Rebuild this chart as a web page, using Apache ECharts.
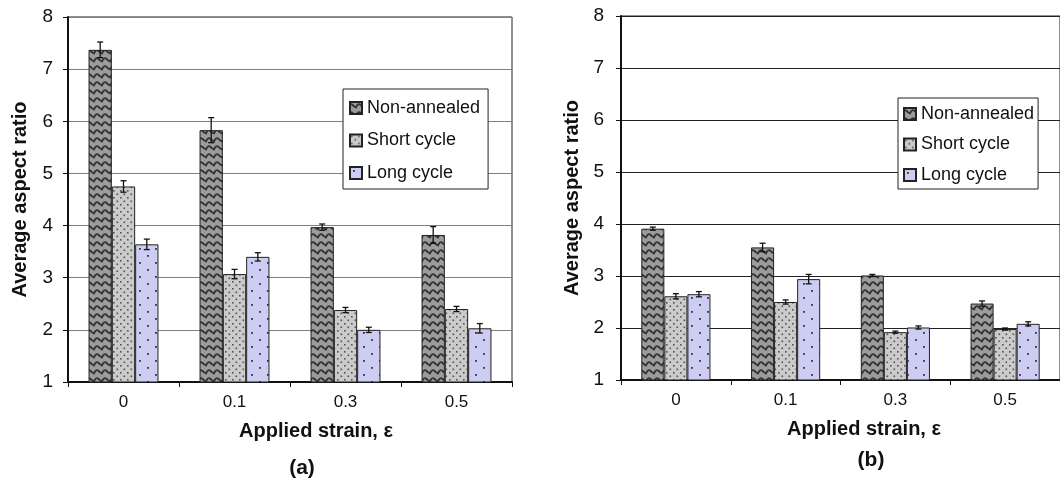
<!DOCTYPE html>
<html lang="en" style="height: 100%">
<head>
  <meta charset="utf-8">
</head>
<body style="height: 100%; margin: 0; background: #fff">
  <div id="container" style="width: 1060px; height: 481px"></div>

  <script type="text/javascript" src="https://fastly.jsdelivr.net/npm/echarts@6.0.0/dist/echarts.min.js"></script>
  <script type="text/javascript">
var categories = ['0', '0.1', '0.3', '0.5'];
var seriesNames = ['Non-annealed', 'Short cycle', 'Long cycle'];
var yTicks = [1, 8, 1]; // min, max, step

// panel (a)
var aNonAnnealed = [7.37, 5.83, 3.97, 3.82];
var aShort = [4.75, 3.07, 2.38, 2.40];
var aLong = [3.64, 3.40, 2.00, 2.03];
var aNonAnnealedErr = [0.15, 0.24, 0.06, 0.16];
var aShortErr = [0.11, 0.09, 0.05, 0.05];
var aLongErr = [0.10, 0.08, 0.05, 0.09];

// panel (b)
var bNonAnnealed = [3.91, 3.55, 3.01, 2.47];
var bShort = [2.61, 2.50, 1.92, 1.98];
var bLong = [2.65, 2.94, 2.01, 2.08];
var bNonAnnealedErr = [0.03, 0.08, 0.02, 0.05];
var bShortErr = [0.05, 0.04, 0.02, 0.02];
var bLongErr = [0.05, 0.09, 0.03, 0.04];

var FONT = '"Liberation Sans", Arial, sans-serif';
var GAP = 0.37;

// fill patterns
function waveTile() {
  var c = document.createElement('canvas');
  c.width = 8; c.height = 8;
  var g = c.getContext('2d');
  g.fillStyle = '#9c9c9c';
  g.fillRect(0, 0, 8, 8);
  g.strokeStyle = '#333';
  g.lineWidth = 1.8;
  g.beginPath();
  g.moveTo(-2, 5.5);
  g.quadraticCurveTo(0, 1, 2, 2.5);
  g.quadraticCurveTo(4, 4.5, 6, 5.5);
  g.quadraticCurveTo(8, 1, 10, 2.5);
  g.moveTo(-2, 5.5);
  g.stroke();
  return c;
}
function dotTile(bg, dot, w, h, pts, r) {
  var c = document.createElement('canvas');
  c.width = w; c.height = h;
  var g = c.getContext('2d');
  g.fillStyle = bg;
  g.fillRect(0, 0, w, h);
  g.fillStyle = dot;
  for (var i = 0; i < pts.length; i++) {
    g.fillRect(pts[i][0], pts[i][1], r, r);
  }
  return c;
}
var fills = [
  { image: waveTile(), repeat: 'repeat' },
  { image: dotTile('#cbcbcb', '#555', 7, 7, [[1, 1], [4.5, 4.5]], 1.6), repeat: 'repeat' },
  { image: dotTile('#cdcdf3', '#333', 16, 14, [[3, 3], [11, 10]], 1.8), repeat: 'repeat' }
];

function errorSeries(idx, values, errs, sIdx) {
  var data = [];
  for (var i = 0; i < values.length; i++) data.push([i, values[i], errs[i]]);
  return {
    type: 'custom',
    xAxisIndex: idx,
    yAxisIndex: idx,
    z: 5,
    silent: true,
    data: data,
    renderItem: function (params, api) {
      var c = api.value(0), v = api.value(1), e = api.value(2);
      var band = api.size([1, 0])[0];
      var barW = band * (1 - GAP) / 3;
      var x = api.coord([c, v])[0] + (sIdx - 1) * barW;
      var top = api.coord([c, v + e])[1];
      var bot = api.coord([c, v - e])[1];
      var st = { stroke: '#111', lineWidth: 1.3 };
      return {
        type: 'group',
        children: [
          { type: 'line', shape: { x1: x, y1: top, x2: x, y2: bot }, style: st },
          { type: 'line', shape: { x1: x - 3, y1: top, x2: x + 3, y2: top }, style: st },
          { type: 'line', shape: { x1: x - 3, y1: bot, x2: x + 3, y2: bot }, style: st }
        ]
      };
    }
  };
}

function barSeries(idx, name, values, k) {
  return {
    name: name,
    type: 'bar',
    xAxisIndex: idx,
    yAxisIndex: idx,
    barGap: '0%',
    barCategoryGap: (GAP * 100) + '%',
    data: values,
    itemStyle: { color: fills[k], borderColor: '#222', borderWidth: 1 }
  };
}

function xAxisFor(idx, shift) {
  return {
    type: 'category',
    gridIndex: idx,
    data: categories,
    axisLine: { lineStyle: { color: '#111', width: 2 } },
    axisTick: { show: true, length: 5, lineStyle: { color: '#111' } },
    axisLabel: { fontFamily: FONT, fontSize: 17, color: '#111', margin: 12 },
    name: 'Applied strain, \u03b5',
    nameLocation: 'middle',
    nameGap: 39,
    nameTextStyle: { fontFamily: FONT, fontSize: 20, fontWeight: 'bold', color: '#111', padding: [0, 0, 0, shift] }
  };
}
function yAxisFor(idx, gridColor, labelMargin, nameGap) {
  return {
    type: 'value',
    gridIndex: idx,
    min: yTicks[0],
    max: yTicks[1],
    interval: yTicks[2],
    axisLine: { show: true, lineStyle: { color: '#111', width: 2 } },
    axisTick: { show: true, length: 5, lineStyle: { color: '#111' } },
    axisLabel: { fontFamily: FONT, fontSize: 19, color: '#111', margin: labelMargin },
    splitLine: { lineStyle: { color: gridColor, width: 1 } },
    name: 'Average aspect ratio',
    nameLocation: 'middle',
    nameGap: nameGap,
    nameTextStyle: { fontFamily: FONT, fontSize: 20, fontWeight: 'bold', color: '#111' }
  };
}
function legendFor(left, top, pad, gap) {
  return {
    orient: 'vertical',
    left: left,
    top: top,
    data: seriesNames,
    backgroundColor: '#fff',
    borderColor: '#222',
    borderWidth: 1,
    padding: pad,
    itemGap: gap,
    itemWidth: 12,
    itemHeight: 12,
    icon: 'rect',
    selectedMode: false,
    textStyle: { fontFamily: FONT, fontSize: 18, color: '#111' }
  };
}

var dom = document.getElementById('container');
var myChart = echarts.init(dom, null, { renderer: 'canvas' });

var option = {
  animation: false,
  backgroundColor: '#fff',
  title: [
    { text: '(a)', left: 297, top: 453, textAlign: 'center',
      textStyle: { fontFamily: FONT, fontSize: 21, fontWeight: 'bold', color: '#111' } },
    { text: '(b)', left: 866, top: 445, textAlign: 'center',
      textStyle: { fontFamily: FONT, fontSize: 21, fontWeight: 'bold', color: '#111' } }
  ],
  grid: [
    { left: 68, top: 17, width: 444, height: 365, show: true, borderColor: '#222', borderWidth: 1 },
    { left: 621, top: 16, width: 439, height: 364, show: true, borderColor: '#222', borderWidth: 1 }
  ],
  legend: [
    legendFor(343, 89, [10, 8, 7, 6], 14.5),
    legendFor(898, 98, [7, 4, 5, 5], 12.5)
  ],
  xAxis: [xAxisFor(0, 52), xAxisFor(1, 47)],
  yAxis: [yAxisFor(0, '#808080', 15, 38), yAxisFor(1, '#222', 17, 39)],
  series: [
    barSeries(0, seriesNames[0], aNonAnnealed, 0),
    barSeries(0, seriesNames[1], aShort, 1),
    barSeries(0, seriesNames[2], aLong, 2),
    barSeries(1, seriesNames[0], bNonAnnealed, 0),
    barSeries(1, seriesNames[1], bShort, 1),
    barSeries(1, seriesNames[2], bLong, 2),
    errorSeries(0, aNonAnnealed, aNonAnnealedErr, 0),
    errorSeries(0, aShort, aShortErr, 1),
    errorSeries(0, aLong, aLongErr, 2),
    errorSeries(1, bNonAnnealed, bNonAnnealedErr, 0),
    errorSeries(1, bShort, bShortErr, 1),
    errorSeries(1, bLong, bLongErr, 2)
  ]
};

myChart.setOption(option);
window.addEventListener('resize', myChart.resize);
  </script>
</body>
</html>
